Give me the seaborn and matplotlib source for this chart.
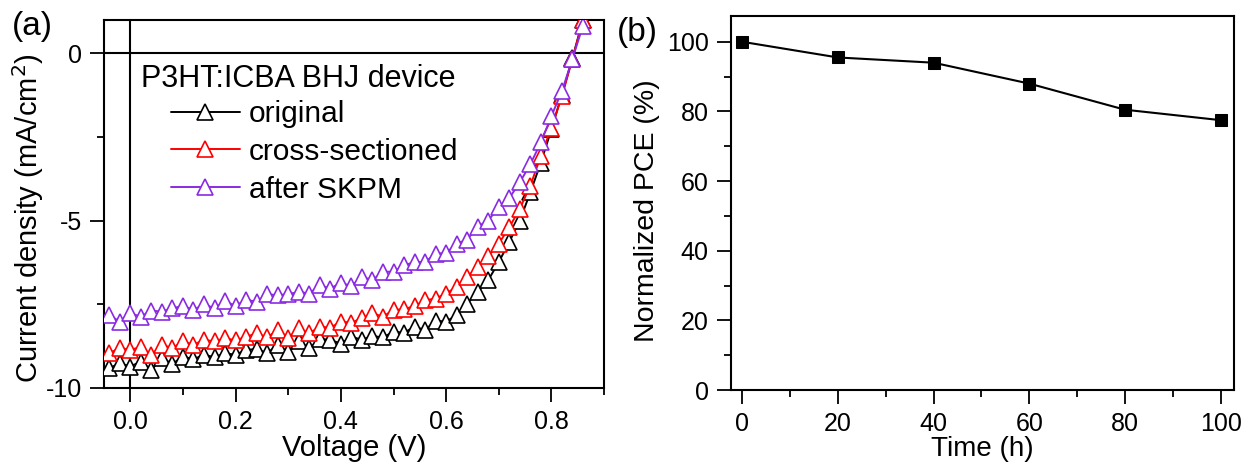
import matplotlib
matplotlib.use("Agg")
import matplotlib.pyplot as plt
import seaborn as sns
import numpy as np
import pandas as pd
from matplotlib.ticker import MultipleLocator

# dados
voltage = [-0.04, -0.02, 0.00, 0.02, 0.04, 0.06, 0.08, 0.10, 0.12, 0.14,
           0.16, 0.18, 0.20, 0.22, 0.24, 0.26, 0.28, 0.30, 0.32, 0.34,
           0.36, 0.38, 0.40, 0.42, 0.44, 0.46, 0.48, 0.50, 0.52, 0.54,
           0.56, 0.58, 0.60, 0.62, 0.64, 0.66, 0.68, 0.70, 0.72, 0.74,
           0.76, 0.78, 0.80, 0.82, 0.84, 0.86]

j_original = [-9.41, -9.26, -9.36, -9.21, -9.46, -9.11, -9.28, -9.06, -9.14, -9.01,
              -9.08, -8.96, -9.01, -8.86, -8.84, -8.96, -8.71, -8.94, -8.61, -8.81,
              -8.54, -8.56, -8.68, -8.47, -8.56, -8.45, -8.49, -8.32, -8.35, -8.17,
              -8.27, -7.99, -8.02, -7.82, -7.48, -7.13, -6.78, -6.24, -5.64, -5.00,
              -4.16, -3.27, -2.28, -1.24, -0.15, 0.99]

j_cross = [-8.96, -8.81, -8.86, -8.78, -9.01, -8.71, -8.81, -8.61, -8.71, -8.56,
           -8.61, -8.51, -8.58, -8.47, -8.37, -8.49, -8.27, -8.51, -8.22, -8.37,
           -8.17, -8.20, -8.02, -8.05, -7.92, -7.77, -7.87, -7.67, -7.65, -7.55,
           -7.38, -7.33, -7.18, -6.98, -6.68, -6.39, -6.07, -5.69, -5.20, -4.65,
           -3.96, -3.07, -2.23, -1.29, -0.17, 0.99]

j_skpm = [-7.82, -8.02, -7.77, -7.87, -7.69, -7.72, -7.62, -7.55, -7.67, -7.50,
          -7.62, -7.41, -7.55, -7.36, -7.43, -7.20, -7.23, -7.20, -7.13, -7.18,
          -6.93, -7.03, -6.86, -6.96, -6.68, -6.78, -6.53, -6.53, -6.34, -6.24,
          -6.24, -5.99, -5.97, -5.69, -5.57, -5.18, -5.00, -4.60, -4.33, -3.86,
          -3.32, -2.67, -1.88, -1.14, -0.17, 0.82]

series_names = ['original', 'cross-sectioned', 'after SKPM']
series_colors = ['black', '#ff0000', '#8a2be2']

time_h = [0, 20, 40, 60, 80, 100]
pce_norm = [100, 95.5, 94, 88, 80.5, 77.5]

sns.set_theme(style="ticks")
plt.rcParams['font.family'] = ['Liberation Sans', 'DejaVu Sans']
plt.rcParams['axes.linewidth'] = 1.5
plt.rcParams['axes.edgecolor'] = 'black'
plt.rcParams['xtick.color'] = 'black'
plt.rcParams['ytick.color'] = 'black'
plt.rcParams['text.color'] = 'black'
plt.rcParams['axes.labelcolor'] = 'black'

fig = plt.figure(figsize=(12.47, 4.66), dpi=100)
ax1 = fig.add_axes([0.0834, 0.1674, 0.401, 0.7907])
ax2 = fig.add_axes([0.586, 0.163, 0.4036, 0.8026])

# painel (a)
ax1.axhline(0, color='black', lw=1.5, zorder=1)
ax1.axvline(0, color='black', lw=1.5, zorder=1)
all_j = [j_original, j_cross, j_skpm]
for name, color, j in zip(series_names, series_colors, all_j):
    sns.lineplot(x=voltage, y=j, ax=ax1, color=color, lw=1.4, marker='^',
                 markersize=11, markerfacecolor='white', markeredgecolor=color,
                 mew=1.2, label=name, zorder=3)

ax1.set_xlim(-0.05, 0.9)
ax1.set_ylim(-10, 1.0)
ax1.xaxis.set_major_locator(MultipleLocator(0.2))
ax1.xaxis.set_minor_locator(MultipleLocator(0.1))
ax1.yaxis.set_major_locator(MultipleLocator(5))
ax1.yaxis.set_minor_locator(MultipleLocator(2.5))
ax1.set_xticks([0.0, 0.2, 0.4, 0.6, 0.8])
ax1.set_xticklabels(['0.0', '0.2', '0.4', '0.6', '0.8'])
ax1.set_yticks([-10, -5, 0])
ax1.set_yticklabels(['-10', '-5', '0'])
ax1.set_xlabel('Voltage (V)', fontsize=21, labelpad=0)
ax1.set_ylabel('Current density (mA/cm$^2$)', fontsize=21)
ax1.yaxis.set_label_coords(-0.115, 0.46)

ax1.legend(loc='upper left', bbox_to_anchor=(171 / 1247, 1 - 100 / 466),
           bbox_transform=fig.transFigure, frameon=False, fontsize=21.5,
           handlelength=2.3, handletextpad=0.3, labelspacing=0.33,
           borderpad=0, borderaxespad=0)
fig.text(141 / 1247, 1 - 79 / 466, 'P3HT:ICBA BHJ device', fontsize=22,
         ha='left', va='center')

# painel (b)
sns.lineplot(x=time_h, y=pce_norm, ax=ax2, color='black', lw=1.5, marker='s',
             markersize=8, markerfacecolor='black', markeredgecolor='black')
ax2.set_xlim(-2.4, 102.8)
ax2.set_ylim(0, 107.4)
ax2.xaxis.set_major_locator(MultipleLocator(20))
ax2.xaxis.set_minor_locator(MultipleLocator(10))
ax2.yaxis.set_major_locator(MultipleLocator(20))
ax2.yaxis.set_minor_locator(MultipleLocator(10))
ax2.set_xlabel('Time (h)', fontsize=20, labelpad=0)
ax2.set_ylabel('Normalized PCE (%)', fontsize=20.5)
ax2.yaxis.set_label_coords(-0.14, 0.48)

for ax in (ax1, ax2):
    ax.tick_params(which='major', direction='out', length=10, width=1.3,
                   labelsize=18, pad=6, top=False, right=False)
    ax.tick_params(which='minor', direction='out', length=5, width=1.3,
                   top=False, right=False)
    for sp in ax.spines.values():
        sp.set_visible(True)
        sp.set_linewidth(1.5)

fig.text(32 / 1247, 1 - 26 / 466, '(a)', fontsize=24, ha='center', va='center')
fig.text(637 / 1247, 1 - 32 / 466, '(b)', fontsize=24, ha='center', va='center')

fig.savefig('out.png', dpi=100)
